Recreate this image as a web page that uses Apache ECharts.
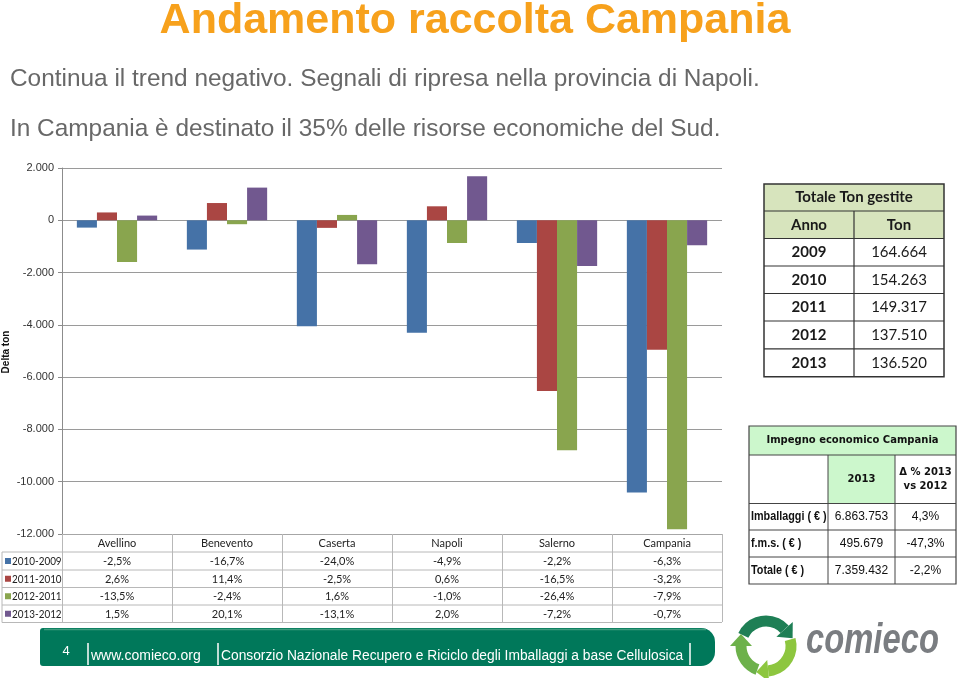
<!DOCTYPE html>
<html><head><meta charset="utf-8">
<script src="https://cdn.jsdelivr.net/npm/echarts@6/dist/echarts.min.js"></script>
<style>html,body{margin:0;padding:0;background:#fff}#c{width:959px;height:678px}</style>
</head><body><div id="c"></div>
<script>
// ---- data ----
const categories = ['Avellino', 'Benevento', 'Caserta', 'Napoli', 'Salerno', 'Campania'];
const seriesNames = ['2010-2009', '2011-2010', '2012-2011', '2013-2012'];
const s2010 = [-280, -1120, -4050, -4300, -870, -10410];
const s2011 = [300, 660, -290, 535, -6530, -4950];
const s2012 = [-1595, -150, 205, -870, -8800, -11820];
const s2013 = [180, 1250, -1680, 1680, -1750, -955];
const pct2010 = ['-2,5%', '-16,7%', '-24,0%', '-4,9%', '-2,2%', '-6,3%'];
const pct2011 = ['2,6%', '11,4%', '-2,5%', '0,6%', '-16,5%', '-3,2%'];
const pct2012 = ['-13,5%', '-2,4%', '1,6%', '-1,0%', '-26,4%', '-7,9%'];
const pct2013 = ['1,5%', '20,1%', '-13,1%', '2,0%', '-7,2%', '-0,7%'];
const yMin = -12000, yMax = 2000, yStep = 2000;
const tonYears = ['2009', '2010', '2011', '2012', '2013'];
const tonValues = ['164.664', '154.263', '149.317', '137.510', '136.520'];
const impRows = ['Imballaggi ( € )', 'f.m.s. ( € )', 'Totale ( € )'];
const imp2013 = ['6.863.753', '495.679', '7.359.432'];
const impDelta = ['4,3%', '-47,3%', '-2,2%'];

const palette = ['#4572A7', '#AA4643', '#89A54E', '#71588F'];
const seriesData = [s2010, s2011, s2012, s2013];
const pctRows = [pct2010, pct2011, pct2012, pct2013];

function fmt(v) {
  const s = Math.abs(v).toString().replace(/\B(?=(\d{3})+(?!\d))/g, '.');
  return (v < 0 ? '-' : '') + s;
}

const chart = echarts.init(document.getElementById('c'));
chart.setOption({
  animation: false,
  color: palette,
  grid: { left: 62, right: 237, top: 168, bottom: 144 },
  xAxis: {
    type: 'category', data: categories,
    axisLine: { onZero: false, lineStyle: { color: '#a6a6a6' } },
    axisTick: { show: true, length: 88, lineStyle: { color: '#b8b8b8' } },
    axisLabel: { interval: 0, margin: 4, color: '#222', fontFamily: 'Lato', fontSize: 11 }
  },
  yAxis: {
    type: 'value', min: yMin, max: yMax, interval: yStep,
    axisLine: { show: true, lineStyle: { color: '#8c8c8c' } },
    axisTick: { show: true, length: 4, lineStyle: { color: '#8c8c8c' } },
    axisLabel: { formatter: fmt, color: '#333', fontFamily: 'Liberation Sans', fontSize: 11, margin: 8 },
    splitLine: { lineStyle: { color: '#9a9a9a' } }
  },
  series: seriesData.map((d, i) => ({
    type: 'bar', name: seriesNames[i], data: d, barGap: '0%', barCategoryGap: '27%'
  }))
});

// ---- decorations ----
const els = [];
function rect(x, y, w, h, fill, stroke, lw, r) {
  els.push({ type: 'rect', shape: { x, y, width: w, height: h, r: r || 0 },
    style: { fill: fill || 'none', stroke: stroke || 'none', lineWidth: lw || 0 }, z: 10 });
}
function line(x1, y1, x2, y2, stroke, lw) {
  els.push({ type: 'line', shape: { x1, y1, x2, y2 }, style: { stroke, lineWidth: lw || 1 }, z: 11 });
}
function text(str, x, y, font, fill, align, valign, extra) {
  els.push(Object.assign({ type: 'text', x, y, z: 12,
    style: { text: str, font, fill, textAlign: align || 'left', textVerticalAlign: valign || 'middle', lineHeight: 14 } }, extra || {}));
}

// Title & subtitles
text('Andamento raccolta Campania', 475, 21, 'bold 43px "Liberation Sans", Arial, sans-serif', '#F7A11C', 'center');
text('Continua il trend negativo. Segnali di ripresa nella provincia di Napoli.', 10, 79, '24.4px "Liberation Sans", Arial, sans-serif', '#686868');
text('In Campania è destinato il 35% delle risorse economiche del Sud.', 10, 129, '24.4px "Liberation Sans", Arial, sans-serif', '#686868');

// Axis name
text('Delta ton', 6, 352, 'bold 10px "Liberation Sans", Arial, sans-serif', '#111', 'center', 'middle', { rotation: Math.PI / 2 });

// Data table under chart
const rowLines = [552, 570, 587.5, 605, 622.5];
const tableRight = 722;
rowLines.forEach(y => line(2, y, tableRight, y, '#b8b8b8', 1));
line(2, rowLines[0], 2, rowLines[4], '#b8b8b8', 1);
const colX = categories.map(c => chart.convertToPixel({ xAxisIndex: 0 }, c));
for (let r = 0; r < 4; r++) {
  const cy = (rowLines[r] + rowLines[r + 1]) / 2;
  rect(5, cy - 3, 6, 6, palette[r]);
  text(seriesNames[r], 12, cy + 0.5, '11px Lato, sans-serif', '#222', 'left', 'middle', { scaleX: 0.9, originX: 0 });
  pctRows[r].forEach((p, i) => text(p, colX[i], cy + 0.5, '11px Lato, sans-serif', '#222', 'center'));
}

// Table 1: Totale Ton gestite
const t1L = 764, t1R = 944, t1M = 854;
const t1Rows = [184, 211, 238.5, 266, 293.5, 321, 348.8, 376.8];
rect(t1L, t1Rows[0], t1R - t1L, t1Rows[2] - t1Rows[0], '#D7E4BD');
for (let i = 1; i < t1Rows.length - 1; i++) line(t1L, t1Rows[i], t1R, t1Rows[i], '#333', 1.2);
line(t1M, t1Rows[1], t1M, t1Rows[7], '#333', 1.2);
rect(t1L, t1Rows[0], t1R - t1L, t1Rows[7] - t1Rows[0], null, '#333', 1.5);
text('Totale Ton gestite', (t1L + t1R) / 2, (t1Rows[0] + t1Rows[1]) / 2, 'bold 15px Lato, sans-serif', '#1a1a1a', 'center');
text('Anno', (t1L + t1M) / 2, (t1Rows[1] + t1Rows[2]) / 2, 'bold 15px Lato, sans-serif', '#1a1a1a', 'center');
text('Ton', (t1M + t1R) / 2, (t1Rows[1] + t1Rows[2]) / 2, 'bold 15px Lato, sans-serif', '#1a1a1a', 'center');
tonYears.forEach((yr, i) => {
  const cy = (t1Rows[i + 2] + t1Rows[i + 3]) / 2;
  text(yr, (t1L + t1M) / 2, cy, 'bold 15px Lato, sans-serif', '#1a1a1a', 'center');
  text(tonValues[i], (t1M + t1R) / 2, cy, '15px Lato, sans-serif', '#1a1a1a', 'center');
});

// Table 2: Impegno economico Campania
const t2L = 749, t2R = 956, t2C1 = 828, t2C2 = 895;
const t2Rows = [426, 455, 503.5, 530, 557, 584];
rect(t2L, t2Rows[0], t2R - t2L, t2Rows[1] - t2Rows[0], '#CCF7CC');
rect(t2C1, t2Rows[1], t2C2 - t2C1, t2Rows[2] - t2Rows[1], '#CCF7CC');
for (let i = 1; i < t2Rows.length - 1; i++) line(t2L, t2Rows[i], t2R, t2Rows[i], '#444', 1);
line(t2C1, t2Rows[1], t2C1, t2Rows[5], '#444', 1);
line(t2C2, t2Rows[1], t2C2, t2Rows[5], '#444', 1);
rect(t2L, t2Rows[0], t2R - t2L, t2Rows[5] - t2Rows[0], null, '#444', 1.2);
text('Impegno economico Campania', (t2L + t2R) / 2, (t2Rows[0] + t2Rows[1]) / 2, 'bold 10px "DejaVu Sans", sans-serif', '#111', 'center');
text('2013', (t2C1 + t2C2) / 2, (t2Rows[1] + t2Rows[2]) / 2, 'bold 10px "DejaVu Sans", sans-serif', '#111', 'center');
text('Δ % 2013\nvs 2012', (t2C2 + t2R) / 2, (t2Rows[1] + t2Rows[2]) / 2, 'bold 10px "DejaVu Sans", sans-serif', '#111', 'center');
impRows.forEach((lab, i) => {
  const cy = (t2Rows[i + 2] + t2Rows[i + 3]) / 2;
  text(lab, t2L + 2, cy, 'bold 12px "Liberation Sans Narrow", "Liberation Sans", sans-serif', '#111', 'left', 'middle', { scaleX: 0.9, originX: 0 });
  text(imp2013[i], (t2C1 + t2C2) / 2, cy, '12px "Liberation Sans Narrow", "Liberation Sans", sans-serif', '#111', 'center');
  text(impDelta[i], (t2C2 + t2R) / 2, cy, '12px "Liberation Sans Narrow", "Liberation Sans", sans-serif', '#111', 'center');
});

// Footer bar
rect(40, 628, 675, 38, '#00785A', null, 0, [3, 14, 14, 3]);
line(44, 629.5, 706, 629.5, '#3E9C7E', 1.5);
text('4', 66, 651, '13px "Liberation Sans", Arial, sans-serif', '#fff', 'center');
[88, 218, 690].forEach(x => line(x, 643, x, 665, '#fff', 1.5));
text('www.comieco.org', 91, 656, '14px "Liberation Sans", Arial, sans-serif', '#fff');
text('Consorzio Nazionale Recupero e Riciclo degli Imballaggi a base Cellulosica', 221, 656, '14px "Liberation Sans", Arial, sans-serif', '#fff', 'left', 'middle', { scaleX: 0.985, originX: 0 });

// Logo: recycle arrows
const lc = [766, 646], lr = 25;
function arcArrow(a0, a1, color) {
  const A0 = a0 * Math.PI / 180, A1 = a1 * Math.PI / 180;
  els.push({ type: 'arc', shape: { cx: lc[0], cy: lc[1], r: lr, startAngle: A0, endAngle: A1, clockwise: true },
    style: { stroke: color, lineWidth: 11, fill: 'none' }, z: 10 });
  const px = lc[0] + lr * Math.cos(A1), py = lc[1] + lr * Math.sin(A1);
  const tx = -Math.sin(A1), ty = Math.cos(A1);
  const nx = Math.cos(A1), ny = Math.sin(A1);
  els.push({ type: 'polygon', shape: { points: [
    [px + nx * 11, py + ny * 11], [px - nx * 11, py - ny * 11], [px + tx * 12, py + ty * 12]] },
    style: { fill: color }, z: 10 });
}
arcArrow(205, 318, '#1E7F55');
arcArrow(345, 85, '#8DC63F');
arcArrow(110, 180, '#6DB14B');
text('comieco', 806, 641, 'italic bold 42px "Liberation Sans", Arial, sans-serif', '#7A7D81', 'left', 'middle', { scaleX: 0.78, originX: 0 });

chart.setOption({ graphic: { elements: els } });
</script>
</body></html>
